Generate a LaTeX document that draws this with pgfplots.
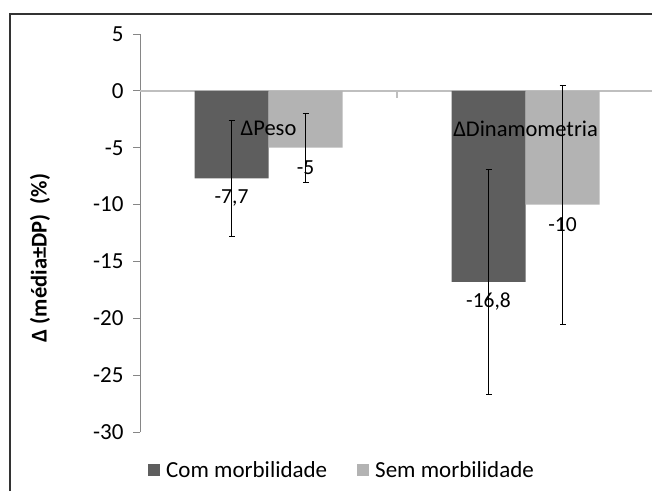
\documentclass[border=0pt]{standalone}
\usepackage{pgfplots}
\pgfplotsset{compat=1.18}
\usepackage{pgfplotstable}
\usepackage{fontspec}
\setmainfont{Carlito}
\definecolor{dark}{HTML}{5E5E5E}
\definecolor{light}{HTML}{B3B3B3}
\definecolor{axgray}{HTML}{868686}
\definecolor{zerogray}{HTML}{BFBFBF}
\pgfplotstableread{
x y err lab
0 -7.7 5.1 {-7,7}
1 -16.8 9.9 {-16,8}
}\com
\pgfplotstableread{
x y err lab
0 -5 3.05 {-5}
1 -10 10.5 {-10}
}\sem
\begin{document}
\begin{tikzpicture}[x=1pt,y=1pt]
\useasboundingbox (0,0) rectangle (652,491);
\draw[line width=2pt, black!80] (10,0) -- (10,477) -- (652,477);
\begin{axis}[
  at={(140pt,59pt)}, anchor=south west,
  scale only axis, width=512pt, height=398pt,
  xmin=-0.5, xmax=1.492, ymin=-30, ymax=5,
  axis x line=none, axis y line*=left,
  y axis line style={axgray, line width=0.8pt},
  ytick={-30,-25,...,5},
  tick align=outside, major tick length=7pt,
  ytick style={axgray, line width=0.8pt},
  yticklabel style={font=\fontsize{23}{23}\selectfont, xshift=-6pt},
  /pgf/number format/assume math mode=true,
  ybar=0pt, bar width=74pt,
  clip=false,
  legend style={at={(rel axis cs:0.0156,-0.0955)}, anchor=west, draw=none, fill=none,
    legend columns=2, inner sep=0pt,
    nodes={inner xsep=6pt},
    font=\fontsize{23}{23}\selectfont,
    /tikz/every even column/.append style={column sep=24pt}},
  legend image code/.code={\fill[#1] (0pt,-6pt) rectangle (12pt,6pt);},
  nodes near coords={\pgfplotspointmeta},
  point meta=explicit symbolic,
  every node near coord/.append style={anchor=center, yshift=-20pt, font=\fontsize{21.5}{21.5}\selectfont, black},
]
\draw[zerogray, line width=2pt] (axis cs:-0.5,0) -- (axis cs:1.492,0);
\draw[zerogray, line width=1.5pt] (axis cs:0.5,0) -- (axis cs:0.5,-0.6);
\addplot[fill=dark, draw=none,
  error bars/.cd, y dir=both, y explicit,
  error bar style={black, line width=0.8pt},
  error mark options={rotate=90, mark size=3pt, black, line width=0.8pt}]
  table[x=x, y=y, y error=err, meta=lab] {\com};
\addplot[fill=light, draw=none,
  error bars/.cd, y dir=both, y explicit,
  error bar style={black, line width=0.8pt},
  error mark options={rotate=90, mark size=3pt, black, line width=0.8pt}]
  table[x=x, y=y, y error=err, meta=lab] {\sem};
\legend{Com morbilidade, Sem morbilidade}
\node[font=\fontsize{22.5}{22.5}\selectfont] at (axis cs:0,-3.3) {ΔPeso};
\node[font=\fontsize{22.5}{22.5}\selectfont] at (axis cs:1,-3.3) {ΔDinamometria};
\end{axis}
\node[rotate=90, font=\bfseries\fontsize{22.5}{22.5}\selectfont] at (40,233) {Δ (média±DP)\ \ (\%)};
\end{tikzpicture}
\end{document}
